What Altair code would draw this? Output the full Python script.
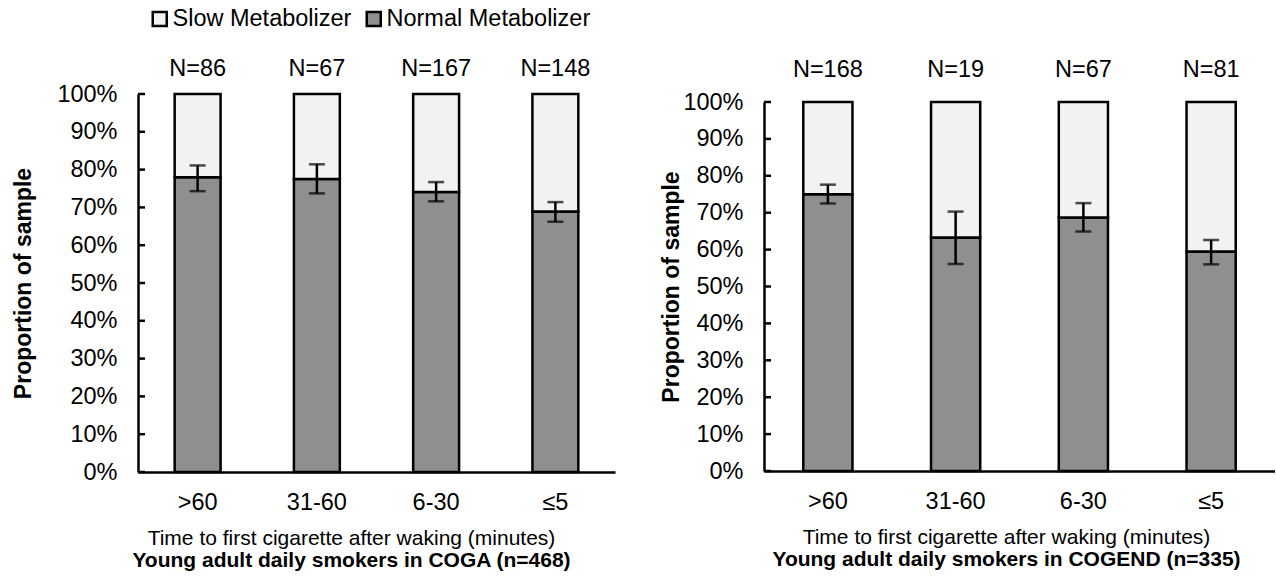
import altair as alt
import pandas as pd

categories = [">60", "31-60", "6-30", "≤5"]
series = ["Slow Metabolizer", "Normal Metabolizer"]
y_ticks = [0.0, 0.1, 0.2, 0.3, 0.4, 0.5, 0.6, 0.7, 0.8, 0.9, 1.0]

coga_normal = [0.780, 0.775, 0.741, 0.689]
coga_low = [0.743, 0.737, 0.716, 0.662]
coga_high = [0.811, 0.814, 0.767, 0.714]
coga_n = ["N=86", "N=67", "N=167", "N=148"]

cogend_normal = [0.750, 0.633, 0.687, 0.595]
cogend_low = [0.725, 0.561, 0.649, 0.560]
cogend_high = [0.776, 0.703, 0.726, 0.626]
cogend_n = ["N=168", "N=19", "N=67", "N=81"]

FONT = "Liberation Sans"
FS = 21      # axis titles, bottom titles
FL = 23.5    # tick labels, N labels, legend


def panel(normal, low, high, nlabels, width, height, top, title_text,
          ytitle_x, xtitle_x, title_dx, n_dy, legend):
    bars = pd.DataFrame({
        "cat": categories * 2,
        "series": ["Normal Metabolizer"] * 4 + ["Slow Metabolizer"] * 4,
        "y0": [0.0] * 4 + normal,
        "y1": normal + [1.0] * 4,
    })
    err = pd.DataFrame({"cat": categories, "lo": low, "hi": high, "n": nlabels})
    ticks = pd.DataFrame({"v": y_ticks})

    xscale = alt.Scale(paddingInner=0.615)
    yscale = alt.Scale(domain=[0, 1], nice=False, zero=True, range=[height, top])

    xaxis = alt.Axis(title="Time to first cigarette after waking (minutes)",
                     titleX=xtitle_x, titlePadding=14,
                     labelAngle=0, ticks=False, tickSize=0,
                     labelPadding=18)
    yaxis = alt.Axis(format=".0%", values=y_ticks, ticks=False, tickSize=0,
                     grid=False, labelPadding=21, labelOverlap=False,
                     title="Proportion of sample", titleFontWeight="bold",
                     titleFontSize=23,
                     titleX=ytitle_x, titleY=(height + top) / 2, titleAngle=270,
                     titleBaseline="middle")

    def X():
        return alt.X("cat:N", sort=categories, scale=xscale, axis=xaxis)

    def Y(field):
        return alt.Y(field, scale=yscale, axis=yaxis)

    bar = alt.Chart(bars).mark_bar(stroke="black", strokeWidth=2.5).encode(
        x=X(),
        y=Y("y0:Q"),
        y2="y1:Q",
        fill=alt.Fill("series:N",
                      scale=alt.Scale(domain=series, range=["#f2f2f2", "#8f8f8f"]),
                      legend=legend),
    )

    rule = alt.Chart(err).mark_rule(color="black", strokeWidth=2.5).encode(
        x=X(), y=Y("lo:Q"), y2="hi:Q",
    )
    caps_lo = alt.Chart(err).mark_tick(color="black", thickness=2.5, size=16).encode(
        x=X(), y=Y("lo:Q"),
    )
    caps_hi = alt.Chart(err).mark_tick(color="black", thickness=2.5, size=16).encode(
        x=X(), y=Y("hi:Q"),
    )
    ntext = alt.Chart(err).mark_text(font=FONT, fontSize=FL, color="black",
                                     baseline="middle").encode(
        x=X(),
        y=alt.value(n_dy),
        text="n:N",
    )
    yt = alt.Chart(ticks).mark_rule(color="black", strokeWidth=2.5).encode(
        y=Y("v:Q"),
        x=alt.value(0),
        x2=alt.value(7),
    )
    return alt.layer(bar, rule, caps_lo, caps_hi, ntext, yt).properties(
        width=width, height=height,
        title=alt.TitleParams(text=title_text, orient="bottom", fontWeight="bold",
                              fontSize=FS, font=FONT, color="black", dx=title_dx,
                              offset=1, anchor="middle"),
    )


legend = alt.Legend(title=None, orient="none", legendX=10, legendY=-87,
                    direction="horizontal", symbolType="square",
                    symbolSize=196, symbolStrokeColor="black",
                    symbolStrokeWidth=2.5, labelFontSize=FL, labelLimit=400,
                    labelFont=FONT, labelColor="black",
                    labelOffset=1, columnPadding=9, padding=0)

left = panel(coga_normal, coga_low, coga_high, coga_n, 477, 378, 0,
             "Young adult daily smokers in COGA (n=468)", -115, 213, -25, -25, legend)
right = panel(cogend_normal, cogend_low, cogend_high, cogend_n, 511, 377, 8,
              "Young adult daily smokers in COGEND (n=335)", -93, 242, -13, -24, legend)

chart = alt.hconcat(left, right, spacing=45).resolve_scale(fill="shared").properties(
    padding={"left": 12, "top": 7, "right": 0, "bottom": 0}
).configure(background="white").configure_view(stroke=None).configure_axis(
    labelFont=FONT, labelFontSize=FL, labelColor="black",
    titleFont=FONT, titleFontSize=FS, titleColor="black", titleFontWeight="normal",
    domainColor="black", domainWidth=2.5,
)

chart.save("out.html", embed_options={"renderer": "svg", "actions": False})
